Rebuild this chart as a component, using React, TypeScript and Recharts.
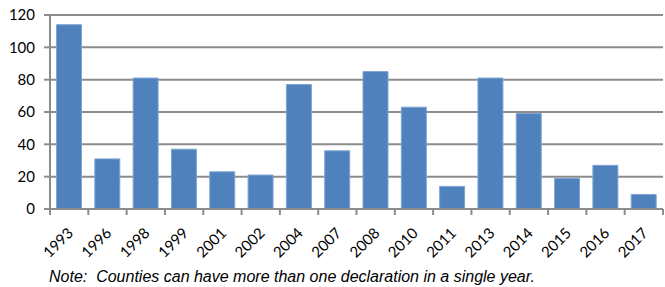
import React from 'react';
import { BarChart, Bar, XAxis, YAxis, CartesianGrid } from 'recharts';

const years = ['1993', '1996', '1998', '1999', '2001', '2002', '2004', '2007', '2008', '2010', '2011', '2013', '2014', '2015', '2016', '2017'];
const declarations = [114, 31, 81, 37, 23, 21, 77, 36, 85, 63, 14, 81, 59, 19, 27, 9];
const yTicks = [0, 20, 40, 60, 80, 100, 120];

const data = years.map((year, i) => ({ year, count: declarations[i] }));

const AXIS_COLOR = '#8c8c8c';
const STEP = 613 / years.length;
const FONT = "Lato, 'Open Sans', sans-serif";

const YearTick = (props: any) => {
    const { x, y, payload, index } = props;
    const isLast = index === years.length - 1;
    return (
        <g>
            <line x1={x - STEP / 2} y1={y} x2={x - STEP / 2} y2={y + 6} stroke={AXIS_COLOR} strokeWidth={2} />
            {isLast && <line x1={x + STEP / 2} y1={y} x2={x + STEP / 2} y2={y + 6} stroke={AXIS_COLOR} strokeWidth={2} />}
            <text
                x={x + 5}
                y={y + 25}
                transform={`rotate(-45, ${x + 5}, ${y + 25})`}
                textAnchor="end"
                fill="#000"
                fontSize={15}
                fontFamily={FONT}
            >
                {payload.value}
            </text>
        </g>
    );
};

const App: React.FC = () => {
    return (
        <div style={{ position: 'absolute', left: 0, top: 0, width: 665, height: 287, background: '#fff' }}>
            <BarChart width={665} height={287} data={data} margin={{ top: 15, right: 2, left: 0, bottom: 47 }} barCategoryGap="17%">
                <CartesianGrid vertical={false} stroke={AXIS_COLOR} strokeWidth={2} />
                <XAxis
                    dataKey="year"
                    interval={0}
                    height={31}
                    tickLine={false}
                    tickSize={0}
                    tickMargin={0}
                    axisLine={{ stroke: AXIS_COLOR, strokeWidth: 2 }}
                    tick={<YearTick />}
                />
                <YAxis
                    width={50}
                    domain={[0, 120]}
                    ticks={yTicks}
                    interval={0}
                    tickSize={6}
                    tickMargin={9}
                    tickLine={{ stroke: AXIS_COLOR, strokeWidth: 2 }}
                    axisLine={{ stroke: AXIS_COLOR, strokeWidth: 2 }}
                    tick={{ fill: '#000', fontSize: 15, fontFamily: FONT }}
                />
                <Bar dataKey="count" fill="#4F81BD" stroke="#7fa5d4" strokeWidth={1} isAnimationActive={false} />
            </BarChart>
            <div
                style={{
                    position: 'absolute',
                    left: 49,
                    top: 268,
                    fontFamily: "'Liberation Sans', Arial, sans-serif",
                    fontStyle: 'italic',
                    fontSize: 16,
                    lineHeight: '18px',
                    color: '#000',
                    whiteSpace: 'pre',
                }}
            >
                {'Note:  Counties can have more than one declaration in a single year.'}
            </div>
        </div>
    );
};

export default App;
